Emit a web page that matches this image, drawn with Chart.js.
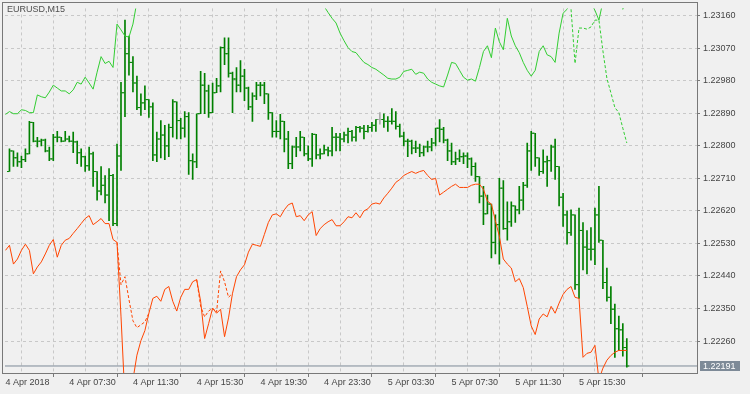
<!DOCTYPE html>
<html>
<head>
<meta charset="utf-8">
<script src="https://cdn.jsdelivr.net/npm/chart.js@4.4.1/dist/chart.umd.min.js"></script>
<style>
  html, body { margin: 0; padding: 0; background: #f0f0f0; }
  #wrap { width: 750px; height: 394px; }
</style>
</head>
<body>
<div id="wrap"><canvas id="chart" width="750" height="394"></canvas></div>
<script>
// ---- data ----
const symbolTitle = 'EURUSD,M15';
const timeLabels = ['4 Apr 2018', '4 Apr 07:30', '4 Apr 11:30', '4 Apr 15:30', '4 Apr 19:30',
  '4 Apr 23:30', '5 Apr 03:30', '5 Apr 07:30', '5 Apr 11:30', '5 Apr 15:30'];
const priceTicks = [1.22260, 1.22350, 1.22440, 1.22530, 1.22620, 1.22710, 1.22800, 1.22890, 1.22980, 1.23070, 1.23160];
const lastPrice = 1.22191;
const firstBar = 1;   // bar slot of the first bar (slot 0 sits on the frame)
const greyBar = 94;   // the one bar drawn grey

const barOpen = [
  1.22729, 1.22786, 1.22767, 1.22756, 1.22762, 1.22778, 1.22865, 1.22813, 1.22813, 1.22816,
  1.22786, 1.22764, 1.22824, 1.22824, 1.22813, 1.22819, 1.22813, 1.22811, 1.22781, 1.22770,
  1.22745, 1.22778, 1.22729, 1.22675, 1.22691, 1.22664, 1.22718, 1.22585, 1.22772, 1.22947,
  1.23055, 1.23031, 1.22974, 1.22906, 1.22919, 1.22928, 1.22908, 1.22775, 1.22819, 1.22830,
  1.22800, 1.22851, 1.22922, 1.22870, 1.22849, 1.22881, 1.22759, 1.22756, 1.22889, 1.22968,
  1.22952, 1.22892, 1.22947, 1.22966, 1.23072, 1.23055, 1.23001, 1.22985, 1.22968, 1.22993,
  1.22960, 1.22908, 1.22938, 1.22968, 1.22968, 1.22944, 1.22892, 1.22840, 1.22840, 1.22868,
  1.22819, 1.22751, 1.22797, 1.22797, 1.22824, 1.22778, 1.22764, 1.22832, 1.22775, 1.22778,
  1.22789, 1.22786, 1.22824, 1.22824, 1.22819, 1.22830, 1.22840, 1.22824, 1.22851, 1.22849,
  1.22840, 1.22851, 1.22857, 1.22873, 1.22873, 1.22868, 1.22868, 1.22868, 1.22854, 1.22827,
  1.22813, 1.22813, 1.22794, 1.22794, 1.22781, 1.22797, 1.22797, 1.22808, 1.22849, 1.22846,
  1.22816, 1.22786, 1.22756, 1.22764, 1.22770, 1.22772, 1.22764, 1.22743, 1.22715, 1.22661,
  1.22612, 1.22639, 1.22533, 1.22582, 1.22683, 1.22571, 1.22590, 1.22634, 1.22623, 1.22650,
  1.22691, 1.22786, 1.22835, 1.22767, 1.22729, 1.22756, 1.22759, 1.22797, 1.22743, 1.22658,
  1.22609, 1.22560, 1.22609, 1.22416, 1.22566, 1.22520, 1.22514, 1.22514, 1.22609, 1.22539,
  1.22422, 1.22381, 1.22348, 1.22294, 1.22291, 1.22242
];
const barHigh = [
  1.22792, 1.22786, 1.22781, 1.22772, 1.22792, 1.22868, 1.22865, 1.22824, 1.22819, 1.22819,
  1.22797, 1.22832, 1.22840, 1.22824, 1.22840, 1.22827, 1.22838, 1.22813, 1.22792, 1.22772,
  1.22797, 1.22783, 1.22729, 1.22743, 1.22718, 1.22737, 1.22721, 1.22805, 1.22976, 1.23148,
  1.23104, 1.23047, 1.22993, 1.22944, 1.22966, 1.22928, 1.22919, 1.22838, 1.22870, 1.22857,
  1.22860, 1.22928, 1.22922, 1.22876, 1.22895, 1.22892, 1.22778, 1.22889, 1.23006, 1.23001,
  1.22968, 1.22974, 1.22987, 1.23074, 1.23099, 1.23099, 1.23004, 1.23017, 1.23036, 1.23012,
  1.22963, 1.22947, 1.22976, 1.22976, 1.22976, 1.22944, 1.22892, 1.22870, 1.22887, 1.22868,
  1.22840, 1.22800, 1.22824, 1.22840, 1.22824, 1.22800, 1.22835, 1.22832, 1.22792, 1.22802,
  1.22797, 1.22851, 1.22835, 1.22835, 1.22838, 1.22849, 1.22843, 1.22854, 1.22854, 1.22857,
  1.22857, 1.22865, 1.22873, 1.22892, 1.22889, 1.22881, 1.22903, 1.22895, 1.22860, 1.22838,
  1.22819, 1.22816, 1.22813, 1.22805, 1.22800, 1.22813, 1.22821, 1.22849, 1.22873, 1.22851,
  1.22819, 1.22808, 1.22783, 1.22789, 1.22781, 1.22781, 1.22767, 1.22753, 1.22715, 1.22688,
  1.22664, 1.22639, 1.22609, 1.22710, 1.22704, 1.22645, 1.22645, 1.22634, 1.22688, 1.22699,
  1.22808, 1.22840, 1.22835, 1.22767, 1.22789, 1.22772, 1.22802, 1.22819, 1.22743, 1.22669,
  1.22620, 1.22623, 1.22609, 1.22628, 1.22588, 1.22566, 1.22574, 1.22628, 1.22688, 1.22539,
  1.22462, 1.22411, 1.22362, 1.22329, 1.22308, 1.22267
];
const barLow = [
  1.22729, 1.22743, 1.22743, 1.22740, 1.22756, 1.22778, 1.22811, 1.22797, 1.22800, 1.22783,
  1.22759, 1.22759, 1.22811, 1.22811, 1.22813, 1.22811, 1.22781, 1.22751, 1.22743, 1.22729,
  1.22732, 1.22688, 1.22650, 1.22664, 1.22642, 1.22593, 1.22579, 1.22579, 1.22732, 1.22881,
  1.22996, 1.22949, 1.22900, 1.22884, 1.22900, 1.22879, 1.22759, 1.22756, 1.22767, 1.22762,
  1.22770, 1.22824, 1.22819, 1.22819, 1.22824, 1.22721, 1.22707, 1.22740, 1.22889, 1.22889,
  1.22879, 1.22892, 1.22947, 1.22949, 1.23025, 1.22990, 1.22892, 1.22949, 1.22949, 1.22925,
  1.22900, 1.22868, 1.22928, 1.22938, 1.22917, 1.22873, 1.22824, 1.22824, 1.22819, 1.22783,
  1.22737, 1.22737, 1.22770, 1.22786, 1.22772, 1.22759, 1.22743, 1.22764, 1.22764, 1.22778,
  1.22772, 1.22772, 1.22786, 1.22786, 1.22811, 1.22808, 1.22813, 1.22813, 1.22838, 1.22819,
  1.22838, 1.22840, 1.22840, 1.22860, 1.22851, 1.22840, 1.22860, 1.22846, 1.22824, 1.22800,
  1.22770, 1.22778, 1.22781, 1.22770, 1.22772, 1.22783, 1.22786, 1.22800, 1.22811, 1.22808,
  1.22759, 1.22748, 1.22748, 1.22756, 1.22751, 1.22740, 1.22718, 1.22702, 1.22642, 1.22582,
  1.22612, 1.22490, 1.22501, 1.22473, 1.22569, 1.22539, 1.22577, 1.22588, 1.22612, 1.22623,
  1.22685, 1.22732, 1.22743, 1.22718, 1.22724, 1.22688, 1.22729, 1.22707, 1.22634, 1.22577,
  1.22528, 1.22552, 1.22403, 1.22378, 1.22457, 1.22446, 1.22484, 1.22471, 1.22533, 1.22405,
  1.22370, 1.22308, 1.22215, 1.22234, 1.22218, 1.22188
];
const barClose = [
  1.22786, 1.22767, 1.22756, 1.22762, 1.22778, 1.22865, 1.22813, 1.22813, 1.22816, 1.22786,
  1.22764, 1.22824, 1.22824, 1.22813, 1.22819, 1.22813, 1.22811, 1.22781, 1.22770, 1.22745,
  1.22778, 1.22729, 1.22675, 1.22691, 1.22664, 1.22718, 1.22585, 1.22772, 1.22947, 1.23055,
  1.23031, 1.22974, 1.22906, 1.22919, 1.22928, 1.22908, 1.22775, 1.22819, 1.22830, 1.22800,
  1.22851, 1.22922, 1.22870, 1.22849, 1.22881, 1.22759, 1.22756, 1.22889, 1.22968, 1.22952,
  1.22892, 1.22947, 1.22966, 1.23072, 1.23055, 1.23001, 1.22985, 1.22968, 1.22993, 1.22960,
  1.22908, 1.22938, 1.22968, 1.22968, 1.22944, 1.22892, 1.22840, 1.22840, 1.22868, 1.22819,
  1.22751, 1.22797, 1.22797, 1.22824, 1.22778, 1.22764, 1.22832, 1.22775, 1.22778, 1.22789,
  1.22786, 1.22824, 1.22824, 1.22819, 1.22830, 1.22840, 1.22824, 1.22851, 1.22849, 1.22840,
  1.22851, 1.22857, 1.22873, 1.22873, 1.22868, 1.22868, 1.22868, 1.22854, 1.22827, 1.22813,
  1.22813, 1.22794, 1.22794, 1.22781, 1.22797, 1.22797, 1.22808, 1.22849, 1.22846, 1.22816,
  1.22786, 1.22756, 1.22764, 1.22770, 1.22772, 1.22764, 1.22743, 1.22715, 1.22661, 1.22612,
  1.22639, 1.22533, 1.22582, 1.22683, 1.22571, 1.22590, 1.22634, 1.22623, 1.22650, 1.22691,
  1.22786, 1.22835, 1.22767, 1.22729, 1.22756, 1.22759, 1.22797, 1.22743, 1.22658, 1.22609,
  1.22560, 1.22609, 1.22416, 1.22566, 1.22520, 1.22514, 1.22514, 1.22609, 1.22539, 1.22422,
  1.22381, 1.22348, 1.22294, 1.22291, 1.22242, 1.22191
];

// indicator lines, one value per bar slot starting at slot 0
const greenLine = [
  1.22887, 1.22895, 1.22889, 1.22889, 1.22900, 1.22898, 1.22892, 1.22892, 1.22941, 1.22936,
  1.22933, 1.22949, 1.22968, 1.22960, 1.22952, 1.22952, 1.22944, 1.22955, 1.22976, 1.22971,
  1.22990, 1.22974, 1.22957, 1.23004, 1.23047, 1.23028, 1.23034, 1.23017, 1.23137, 1.23121,
  1.23104, 1.23101, 1.23137, 1.23199, 1.23218, 1.23235, 1.23251, 1.23262, 1.23267, 1.23275,
  1.23281, 1.23286, 1.23289, 1.23295, 1.23297, 1.23300, 1.23303, 1.23305, 1.23305, 1.23308,
  1.23308, 1.23308, 1.23305, 1.23305, 1.23303, 1.23300, 1.23297, 1.23295, 1.23292, 1.23289,
  1.23284, 1.23281, 1.23275, 1.23273, 1.23267, 1.23262, 1.23259, 1.23254, 1.23248, 1.23243,
  1.23240, 1.23235, 1.23229, 1.23224, 1.23218, 1.23213, 1.23208, 1.23202, 1.23197, 1.23191,
  1.23186, 1.23169, 1.23153, 1.23140, 1.23112, 1.23091, 1.23072, 1.23061, 1.23058, 1.23044,
  1.23031, 1.23025, 1.23017, 1.23012, 1.23004, 1.22996, 1.22987, 1.22985, 1.22985, 1.22990,
  1.23006, 1.23009, 1.23012, 1.22998, 1.23004, 1.23001, 1.22985, 1.22976, 1.22971, 1.22966,
  1.22963, 1.22996, 1.23031, 1.23028, 1.23009, 1.22990, 1.22982, 1.22985, 1.22979, 1.23017,
  1.23061, 1.23077, 1.23044, 1.23126, 1.23088, 1.23066, 1.23153, 1.23104, 1.23077, 1.23058,
  1.23031, 1.23009, 1.22993, 1.23009, 1.23061, 1.23077, 1.23052, 1.23047, 1.23031, 1.23112,
  1.23167, 1.23178, 1.23202, 1.23218, 1.23213, 1.23208, 1.23202, 1.23194, 1.23175, 1.23148,
  1.23199, 1.23227, 1.23235, 1.23227, 1.23208, 1.23178, 1.23191
];
const greenDashStart = 142;
const greenDash = [1.23178, 1.23028, 1.23126, 1.23126, 1.23123, 1.23129, 1.23148, 1.23148,
  1.23063, 1.22987, 1.22947, 1.22906, 1.22892, 1.22849, 1.22808];

const redLine = [
  1.22511, 1.22525, 1.22473, 1.22487, 1.22511, 1.22528, 1.22511, 1.22446, 1.22465, 1.22479,
  1.22501, 1.22525, 1.22541, 1.22492, 1.22525, 1.22539, 1.22544, 1.22558, 1.22571, 1.22585,
  1.22599, 1.22607, 1.22582, 1.22590, 1.22599, 1.22585, 1.22585, 1.22541, 1.22533, 1.22329,
  1.22098, 1.22071, 1.22153, 1.22221, 1.22261, 1.22289, 1.22337, 1.22378, 1.22384, 1.22370,
  1.22403, 1.22411, 1.22370, 1.22343, 1.22381, 1.22403, 1.22403, 1.22424, 1.22430, 1.22370,
  1.22267, 1.22308, 1.22351, 1.22337, 1.22348, 1.22272, 1.22324, 1.22392, 1.22438, 1.22457,
  1.22471, 1.22506, 1.22528, 1.22525, 1.22522, 1.22555, 1.22588, 1.22609, 1.22612, 1.22604,
  1.22623, 1.22637, 1.22642, 1.22604, 1.22607, 1.22593, 1.22609, 1.22618, 1.22552, 1.22571,
  1.22582, 1.22590, 1.22596, 1.22579, 1.22579, 1.22590, 1.22604, 1.22601, 1.22615, 1.22601,
  1.22620, 1.22626, 1.22639, 1.22642, 1.22639, 1.22656, 1.22669, 1.22683, 1.22699, 1.22707,
  1.22718, 1.22724, 1.22729, 1.22724, 1.22729, 1.22732, 1.22718, 1.22707, 1.22710, 1.22664,
  1.22672, 1.22680, 1.22688, 1.22694, 1.22685, 1.22685, 1.22685, 1.22691, 1.22694, 1.22694,
  1.22680, 1.22647, 1.22639, 1.22593, 1.22550, 1.22487, 1.22473, 1.22462, 1.22424, 1.22433,
  1.22408, 1.22356, 1.22302, 1.22278, 1.22321, 1.22335, 1.22327, 1.22356, 1.22337, 1.22365,
  1.22389, 1.22403, 1.22411, 1.22381, 1.22378, 1.22215, 1.22226, 1.22229, 1.22248, 1.22153,
  1.22185, 1.22207, 1.22220, 1.22229, 1.22234, 1.22234, 1.22234
];
const redDashAStart = 28;
const redDashA = [1.22533, 1.22416, 1.22438, 1.22375, 1.22316, 1.22297, 1.22305, 1.22313, 1.22337];
const redDashBStart = 48;
const redDashB = [1.22430, 1.22356, 1.22327, 1.22343, 1.22351, 1.22340, 1.22454, 1.22424, 1.22381, 1.22392];

// ---- helpers ----
const PX_PER_BAR = 4;
const slotMin = -0.125;
const slotMax = slotMin + 695 / PX_PER_BAR;
const gridSlots = [];
for (let s = 0; s <= 168; s += 8) gridSlots.push(s);

const pts = (arr, start) => arr.map((v, k) => ({ x: start + k, y: v }));

const BAR_GREEN = '#008000';
const barColors = barHigh.map((_, k) => (k + firstBar === greyBar ? '#a8a8a8' : BAR_GREEN));

const FONT = { family: '"Liberation Sans", Arial, sans-serif', size: 9 };
const TEXT = '#454545';
const GRID = '#c8c8c8';
const AXIS = '#787878';

const overlay = {
  id: 'overlay',
  afterDraw(chart) {
    const { ctx, scales: { y } } = chart;
    ctx.save();
    // chart frame
    ctx.strokeStyle = AXIS;
    ctx.lineWidth = 1;
    ctx.strokeRect(2.5, 2.5, 695, 371);
    // symbol caption
    ctx.fillStyle = '#505050';
    ctx.font = '9px ' + FONT.family;
    ctx.textBaseline = 'middle';
    ctx.textAlign = 'left';
    ctx.fillText(symbolTitle, 7, 9.5);
    // last price box
    const py = Math.round(y.getPixelForValue(lastPrice));
    ctx.fillStyle = '#7d8a97';
    ctx.fillRect(700, py - 5, 40, 10);
    ctx.fillStyle = '#ffffff';
    ctx.fillText(lastPrice.toFixed(5), 703, py + 0.5);
    ctx.restore();
  }
};

new Chart(document.getElementById('chart'), {
  type: 'bar',
  data: {
    datasets: [
      {
        type: 'bar',
        data: barHigh.map((h, k) => ({ x: k + firstBar, y: [barLow[k], h] })),
        backgroundColor: barColors,
        borderWidth: 0,
        barThickness: 1,
        grouped: false,
        order: 10
      },
      {
        type: 'line',
        showLine: false,
        data: barOpen.map((v, k) => ({ x: k + firstBar - 0.375, y: v })),
        pointStyle: 'line',
        pointRadius: 1,
        pointBorderWidth: 1,
        pointBorderColor: barColors,
        order: 9
      },
      {
        type: 'line',
        showLine: false,
        data: barClose.map((v, k) => ({ x: k + firstBar + 0.375, y: v })),
        pointStyle: 'line',
        pointRadius: 1,
        pointBorderWidth: 1,
        pointBorderColor: barColors,
        order: 9
      },
      {
        type: 'line',
        data: [{ x: slotMin, y: lastPrice }, { x: slotMax, y: lastPrice }],
        borderColor: '#7d8a97',
        borderWidth: 1,
        pointRadius: 0,
        order: 11
      },
      {
        type: 'line',
        data: pts(greenLine, 0),
        borderColor: '#32cd32',
        borderWidth: 1,
        pointRadius: 0,
        tension: 0,
        order: 3
      },
      {
        type: 'line',
        data: pts(greenDash, greenDashStart),
        borderColor: '#32cd32',
        borderWidth: 1,
        borderDash: [3, 2],
        pointRadius: 0,
        order: 3
      },
      {
        type: 'line',
        data: pts(redLine, 0),
        borderColor: '#ff4500',
        borderWidth: 1,
        pointRadius: 0,
        tension: 0,
        order: 2
      },
      {
        type: 'line',
        data: pts(redDashA, redDashAStart),
        borderColor: '#ff4500',
        borderWidth: 1,
        borderDash: [3, 2],
        pointRadius: 0,
        order: 2
      },
      {
        type: 'line',
        data: pts(redDashB, redDashBStart),
        borderColor: '#ff4500',
        borderWidth: 1,
        borderDash: [3, 2],
        pointRadius: 0,
        order: 2
      }
    ]
  },
  options: {
    responsive: false,
    devicePixelRatio: 1,
    animation: false,
    layout: { padding: { left: 2, top: 2, right: 0, bottom: 0 } },
    plugins: { legend: { display: false }, tooltip: { enabled: false } },
    scales: {
      x: {
        type: 'linear',
        min: slotMin,
        max: slotMax,
        offset: false,
        afterFit(scale) { scale.height = 21; },
        afterBuildTicks(scale) { scale.ticks = gridSlots.map(v => ({ value: v })); },
        grid: {
          color: GRID,
          tickLength: 4,
          tickColor: c => (c.index % 2 === 0 ? AXIS : 'rgba(0,0,0,0)'),
          tickBorderDash: []
        },
        border: { color: AXIS, dash: [3, 3] },
        ticks: {
          autoSkip: false,
          maxRotation: 0,
          align: 'start',
          padding: 0,
          color: TEXT,
          font: FONT,
          callback: (v, i) => (i % 2 === 0 ? timeLabels[i / 2] : '')
        }
      },
      y: {
        position: 'right',
        min: 1.221716,
        max: 1.231804,
        afterFit(scale) { scale.width = 53; },
        afterBuildTicks(scale) { scale.ticks = priceTicks.map(v => ({ value: v })); },
        grid: { color: GRID, tickLength: 3, tickColor: AXIS, tickBorderDash: [] },
        border: { color: AXIS, dash: [3, 3] },
        ticks: {
          padding: 3,
          color: TEXT,
          font: FONT,
          callback: v => v.toFixed(5)
        }
      }
    }
  },
  plugins: [overlay]
});
</script>
</body>
</html>
